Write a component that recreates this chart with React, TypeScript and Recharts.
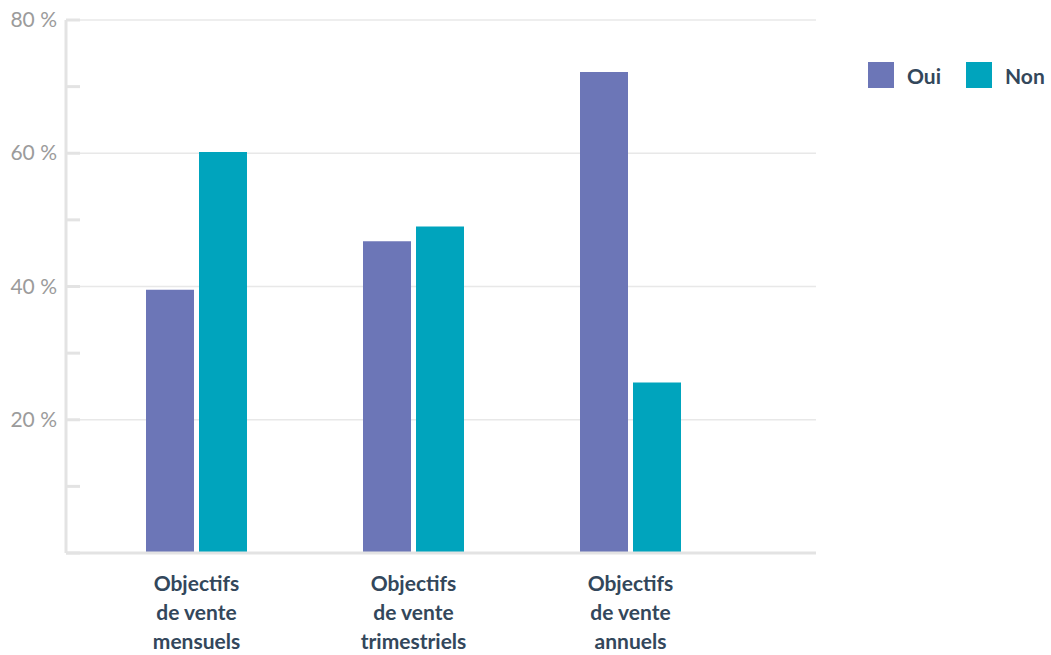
import React from "react";
import { BarChart, Bar, XAxis, YAxis, CartesianGrid } from "recharts";

const categories = [
  "Objectifs\nde vente\nmensuels",
  "Objectifs\nde vente\ntrimestriels",
  "Objectifs\nde vente\nannuels",
];
const oui = [39.5, 46.8, 72.2];
const non = [60.2, 49.0, 25.6];
const yTicks = [0, 10, 20, 30, 40, 50, 60, 70, 80];
const gridValues = [20, 40, 60, 80];

const data = categories.map((c, i) => ({ name: c, oui: oui[i], non: non[i] }));

const series = [
  { key: "oui", name: "Oui", color: "#6c76b7" },
  { key: "non", name: "Non", color: "#00a4bd" },
];

const FONT = "Lato, 'Open Sans', sans-serif";
const DARK = "#33475b";
const AXIS = "#e3e3e3";

const YTick = ({ x, y, payload }: any) => {
  const v = payload.value;
  return (
    <g>
      <line x1={x + 9} x2={x + 23} y1={y} y2={y} stroke={AXIS} strokeWidth={3} />
      {v % 20 === 0 && v !== 0 && (
        <text x={x} y={y} dy={7} textAnchor="end" fill="#9b9b9b" fontSize={21} fontFamily={FONT}>
          {`${v} %`}
        </text>
      )}
    </g>
  );
};

const XTick = ({ x, y, payload }: any) => {
  const lines = String(payload.value).split("\n");
  return (
    <text x={x} y={y} textAnchor="middle" fill={DARK} fontSize={21} fontWeight={700} fontFamily={FONT}>
      {lines.map((l, i) => (
        <tspan key={i} x={x} dy={i === 0 ? 30 : 29}>
          {l}
        </tspan>
      ))}
    </text>
  );
};

export default function App() {
  return (
    <div style={{ position: "absolute", left: 0, top: 0, width: 1051, height: 655, background: "#fff" }}>
      <BarChart
        width={1051}
        height={655}
        data={data}
        margin={{ top: 20, right: 235, left: 0, bottom: 0 }}
        barSize={48}
        barGap={5}
      >
        <CartesianGrid vertical={false} horizontalValues={gridValues} stroke="#e8e8e8" strokeWidth={1.5} />
        <XAxis
          dataKey="name"
          interval={0}
          height={102}
          padding={{ left: 22, right: 77 }}
          axisLine={{ stroke: AXIS, strokeWidth: 3 }}
          tickLine={false}
          tick={<XTick />}
        />
        <YAxis
          width={66}
          domain={[0, 80]}
          ticks={yTicks}
          interval={0}
          tickSize={0}
          tickMargin={9}
          axisLine={{ stroke: AXIS, strokeWidth: 3 }}
          tickLine={false}
          tick={<YTick />}
        />
        {series.map((s) => (
          <Bar key={s.key} dataKey={s.key} name={s.name} fill={s.color} isAnimationActive={false} />
        ))}
      </BarChart>
      <div
        style={{
          position: "absolute",
          left: 868,
          top: 62,
          display: "flex",
          alignItems: "center",
          fontFamily: FONT,
        }}
      >
        {series.map((s) => (
          <div key={s.key} style={{ display: "flex", alignItems: "center", marginRight: 25 }}>
            <div style={{ width: 26, height: 26, background: s.color, marginRight: 13 }} />
            <span style={{ fontSize: 21, fontWeight: 700, color: DARK }}>{s.name}</span>
          </div>
        ))}
      </div>
    </div>
  );
}
